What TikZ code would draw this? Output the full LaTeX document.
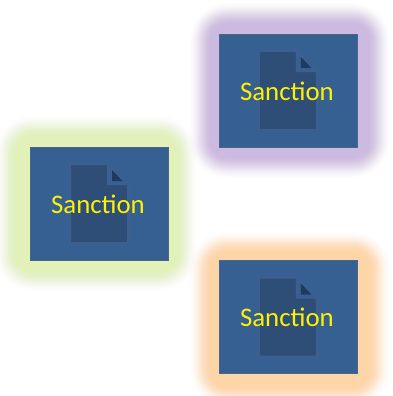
\documentclass[tikz,border=0pt]{standalone}
\usepackage{fontspec}
\setmainfont{Carlito}
\definecolor{boxblue}{HTML}{376092}
\definecolor{boxedge}{HTML}{46658F}
\definecolor{docdark}{HTML}{2E4E78}
\definecolor{doclight}{HTML}{3A5F90}
\definecolor{foldtip}{HTML}{1F3A5F}
\definecolor{glowpurple}{HTML}{CDBAE0}
\definecolor{glowgreen}{HTML}{E1F1B8}
\definecolor{gloworange}{HTML}{FDD5A6}
\tikzset{
  cardbox/.style={draw=boxedge,line width=0.8pt,fill=boxblue,minimum width=138pt,minimum height=113pt,inner sep=0pt},
  cardlabel/.style={text=yellow,font=\fontsize{26.8pt}{30pt}\selectfont,inner sep=0pt},
  docpage/.style={fill=docdark,draw=doclight,line width=3.5pt,line join=miter},
  docfoldflap/.style={fill=boxblue,draw=doclight,line width=3.5pt,line join=miter},
  docfold/.style={fill=foldtip,draw=none},
}
\newcommand{\glowcard}[6]{%
  % #1 name, #2 x, #3 y, #4 colour, #5 glow dx, #6 glow dy
  \begin{scope}[shift={(#2,#3)}]
    \foreach \k in {1,...,24}{
      \pgfmathsetmacro{\m}{32-\k}
      \pgfmathsetmacro{\r}{\m+6}
      \pgfmathsetmacro{\t}{\k/24}
      \pgfmathsetmacro{\s}{(\k-1)/24}
      \pgfmathsetmacro{\ct}{\t*\t*(3-2*\t)}
      \pgfmathsetmacro{\cs}{\s*\s*(3-2*\s)}
      \pgfmathsetmacro{\a}{(\ct-\cs)/(1-\cs)}
      \fill[#4,fill opacity=\a,rounded corners=\r pt]
        (#5-69-\m,#6-56.5-\m) rectangle (#5+69+\m,#6+56.5+\m);
    }
    \node[cardbox] (#1) at (0,0) {};
    \draw[docpage] (-29.75,-40.25) -- (8,-40.25) -- (29.75,-18.5) -- (29.75,40.25) -- (-29.75,40.25) -- cycle;
    \draw[docfoldflap] (9.75,-38) -- (9.75,-20.25) -- (27,-20.25) -- cycle;
    \fill[docfold] (13,-33.5) -- (23.5,-22.5) -- (13,-22.5) -- cycle;
    \node[cardlabel] (#1label) at (-1,0.5) {Sanction};
  \end{scope}%
}
\begin{document}
\begin{tikzpicture}[x=1pt,y=-1pt]
  \useasboundingbox (0,0) rectangle (393,396);
  \fill[white] (0,0) rectangle (393,396);
  \glowcard{sanctiongreen}{99}{203.5}{glowgreen}{-3}{0}
  \glowcard{sanctionpurple}{287.9}{90.5}{glowpurple}{2}{0}
  \glowcard{sanctionorange}{287.9}{317}{gloworange}{2}{2}
\end{tikzpicture}
\end{document}
